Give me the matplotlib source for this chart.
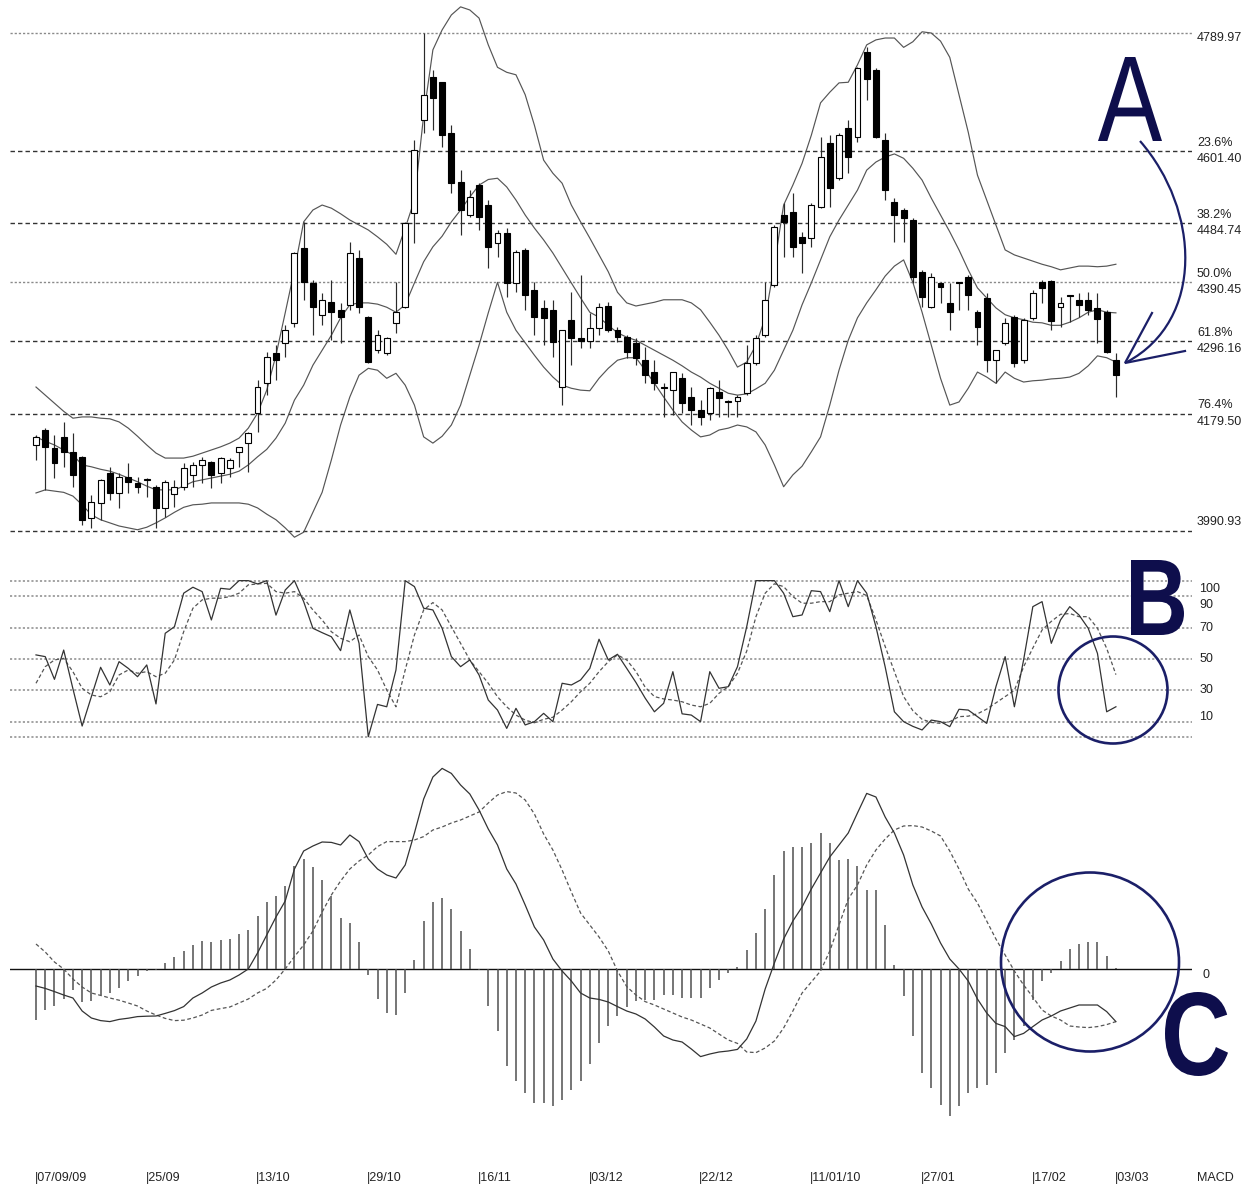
import numpy as np
import matplotlib
matplotlib.use("Agg")
import matplotlib.pyplot as plt
from matplotlib.patches import Ellipse, PathPatch
from matplotlib.path import Path
from matplotlib.textpath import TextPath
from matplotlib.font_manager import FontProperties
from matplotlib.transforms import blended_transform_factory, Affine2D

# ---- price candles (daily OHLC) ----
opens = [4129, 4153, 4124, 4142, 4118, 4110, 4012, 4036, 4084, 4052,
         4078, 4068, 4073, 4062, 4028, 4050, 4062, 4081, 4097, 4102,
         4084, 4092, 4118, 4132, 4180, 4228, 4276, 4293, 4325, 4445,
         4389, 4338, 4359, 4346, 4353, 4429, 4334, 4281, 4277, 4325,
         4350, 4501, 4650, 4719, 4711, 4629, 4551, 4498, 4546, 4514,
         4453, 4469, 4389, 4442, 4378, 4349, 4346, 4222, 4330, 4301,
         4296, 4317, 4352, 4313, 4302, 4292, 4265, 4246, 4222, 4217,
         4236, 4206, 4185, 4180, 4214, 4200, 4200, 4212, 4260, 4305,
         4386, 4498, 4503, 4463, 4461, 4511, 4613, 4557, 4637, 4623,
         4760, 4731, 4618, 4519, 4506, 4490, 4407, 4350, 4389, 4357,
         4390, 4399, 4343, 4365, 4265, 4293, 4334, 4265, 4333, 4390,
         4392, 4351, 4369, 4362, 4362, 4349, 4343, 4265]
highs = [4145, 4156, 4145, 4166, 4148, 4112, 4049, 4075, 4094, 4084,
         4100, 4078, 4076, 4065, 4073, 4073, 4100, 4102, 4110, 4104,
         4110, 4108, 4126, 4150, 4233, 4278, 4290, 4322, 4439, 4487,
         4394, 4373, 4394, 4357, 4455, 4442, 4336, 4313, 4302, 4390,
         4487, 4618, 4790, 4730, 4711, 4642, 4570, 4538, 4549, 4522,
         4474, 4477, 4442, 4445, 4390, 4362, 4362, 4314, 4374, 4402,
         4341, 4357, 4358, 4318, 4305, 4300, 4286, 4265, 4228, 4246,
         4244, 4222, 4201, 4222, 4233, 4201, 4209, 4289, 4305, 4390,
         4482, 4517, 4533, 4471, 4517, 4623, 4626, 4629, 4650, 4736,
         4767, 4734, 4629, 4525, 4509, 4493, 4410, 4405, 4390, 4389,
         4391, 4402, 4346, 4373, 4281, 4333, 4338, 4333, 4378, 4394,
         4394, 4366, 4370, 4373, 4374, 4373, 4346, 4276]
lows = [4105, 4057, 4076, 4094, 4062, 4001, 3996, 4009, 4041, 4028,
        4052, 4052, 4046, 3996, 4014, 4030, 4057, 4062, 4068, 4060,
        4068, 4078, 4094, 4086, 4150, 4209, 4233, 4270, 4318, 4362,
        4306, 4322, 4297, 4293, 4346, 4341, 4260, 4277, 4273, 4309,
        4349, 4453, 4630, 4635, 4607, 4533, 4466, 4495, 4474, 4413,
        4430, 4366, 4374, 4346, 4306, 4290, 4270, 4193, 4257, 4285,
        4285, 4305, 4310, 4294, 4268, 4257, 4228, 4217, 4174, 4177,
        4180, 4161, 4161, 4169, 4174, 4174, 4174, 4209, 4257, 4302,
        4383, 4430, 4430, 4405, 4447, 4509, 4511, 4554, 4565, 4615,
        4683, 4621, 4522, 4455, 4455, 4389, 4350, 4349, 4357, 4313,
        4346, 4346, 4290, 4246, 4228, 4290, 4254, 4260, 4330, 4357,
        4313, 4318, 4326, 4334, 4338, 4293, 4277, 4206]
closes = [4142, 4126, 4100, 4118, 4081, 4009, 4038, 4073, 4052, 4078,
          4070, 4062, 4075, 4028, 4070, 4062, 4092, 4097, 4105, 4081,
          4108, 4105, 4126, 4148, 4222, 4270, 4265, 4314, 4437, 4390,
          4350, 4362, 4343, 4335, 4437, 4350, 4262, 4305, 4300, 4342,
          4485, 4602, 4690, 4686, 4626, 4549, 4506, 4527, 4495, 4447,
          4469, 4389, 4439, 4370, 4334, 4333, 4294, 4313, 4301, 4296,
          4317, 4350, 4313, 4302, 4278, 4268, 4241, 4228, 4220, 4246,
          4196, 4185, 4174, 4220, 4204, 4198, 4206, 4260, 4300, 4362,
          4478, 4487, 4447, 4453, 4514, 4591, 4541, 4626, 4591, 4734,
          4716, 4623, 4538, 4498, 4493, 4399, 4367, 4399, 4383, 4343,
          4389, 4370, 4318, 4265, 4281, 4325, 4260, 4330, 4373, 4381,
          4328, 4357, 4368, 4354, 4346, 4331, 4278, 4241]

# ---- Bollinger bands ----
bb_upper = [4222, 4209, 4196, 4183, 4172, 4174, 4174, 4172, 4171, 4166,
            4156, 4143, 4129, 4116, 4108, 4108, 4108, 4111, 4116, 4121,
            4126, 4132, 4140, 4156, 4180, 4217, 4273, 4341, 4410, 4487,
            4506, 4514, 4509, 4500, 4490, 4482, 4474, 4463, 4451, 4435,
            4477, 4522, 4658, 4763, 4795, 4819, 4832, 4827, 4814, 4771,
            4735, 4727, 4723, 4691, 4642, 4586, 4565, 4549, 4514, 4487,
            4461, 4434, 4407, 4374, 4357, 4352, 4355, 4358, 4362, 4362,
            4362, 4357, 4346, 4326, 4305, 4281, 4254, 4262, 4289, 4333,
            4418, 4514, 4546, 4581, 4626, 4678, 4695, 4710, 4711, 4739,
            4771, 4779, 4782, 4782, 4767, 4776, 4792, 4790, 4777, 4751,
            4691, 4631, 4562, 4522, 4482, 4442, 4434, 4429, 4424, 4419,
            4415, 4410, 4413, 4416, 4416, 4415, 4416, 4419]
bb_mid = [4142, 4135, 4129, 4121, 4113, 4097, 4094, 4090, 4087, 4082,
          4076, 4070, 4063, 4057, 4057, 4057, 4063, 4070, 4073, 4076,
          4079, 4082, 4087, 4097, 4110, 4122, 4140, 4164, 4201, 4225,
          4257, 4281, 4305, 4333, 4354, 4357, 4357, 4355, 4350, 4342,
          4354, 4389, 4423, 4447, 4464, 4487, 4506, 4527, 4546, 4555,
          4557, 4543, 4522, 4498, 4477, 4458, 4437, 4413, 4389, 4365,
          4342, 4334, 4321, 4309, 4302, 4297, 4289, 4281, 4273, 4265,
          4256, 4246, 4238, 4228, 4220, 4212, 4209, 4211, 4219, 4228,
          4249, 4281, 4313, 4354, 4389, 4426, 4463, 4490, 4514, 4538,
          4570, 4583, 4591, 4596, 4589, 4573, 4554, 4525, 4498, 4471,
          4442, 4410, 4381, 4365, 4349, 4338, 4333, 4330, 4326, 4325,
          4321, 4321, 4326, 4333, 4342, 4346, 4342, 4341]
bb_lower = [4052, 4057, 4055, 4053, 4047, 4033, 4017, 4009, 4004, 3999,
            3996, 3993, 3997, 4004, 4012, 4021, 4029, 4033, 4034, 4036,
            4036, 4036, 4036, 4034, 4028, 4018, 4009, 3996, 3981, 3989,
            4021, 4053, 4105, 4161, 4206, 4241, 4252, 4249, 4236, 4244,
            4225, 4193, 4142, 4132, 4143, 4161, 4193, 4241, 4289, 4341,
            4390, 4342, 4313, 4293, 4273, 4254, 4238, 4225, 4220, 4217,
            4216, 4236, 4252, 4265, 4269, 4269, 4249, 4228, 4206, 4185,
            4166, 4153, 4142, 4145, 4153, 4156, 4161, 4158, 4150, 4129,
            4097, 4062, 4081, 4095, 4118, 4142, 4193, 4249, 4297, 4333,
            4357, 4378, 4400, 4416, 4426, 4390, 4342, 4289, 4236, 4193,
            4198, 4220, 4246, 4238, 4228, 4246, 4236, 4230, 4232, 4233,
            4235, 4236, 4238, 4244, 4256, 4272, 4269, 4262]

# ---- Fibonacci retracement levels ----
fib_prices = [4789.97, 4601.40, 4484.74, 4390.45, 4296.16, 4179.50, 3990.93]
fib_pcts = ["", "23.6%", "38.2%", "50.0%", "61.8%", "76.4%", ""]

# ---- Stochastic ----
stoch_k = [52.6, 51.5, 37, 55.7, 31, 7.2, 26, 44.7, 33.4, 48.3,
           44, 38.7, 46.2, 21.3, 66.4, 70.6, 92, 95.8, 93, 74.9,
           95.1, 94.5, 100, 100, 97.9, 100, 78, 94, 100, 86.6,
           69.6, 66.8, 64.2, 55.3, 81.3, 60, 0.4, 21, 19.5, 43,
           100, 96.2, 82.4, 81.3, 69.6, 51.5, 45.1, 49.4, 39.8, 23.8,
           17.4, 5.7, 18.5, 7.9, 10, 15.3, 10, 34.5, 33.4, 36.6,
           44, 62.6, 49.4, 53, 44, 35, 25, 16.3, 21.7, 41.9,
           15, 14.2, 10, 41.9, 31.3, 32.3, 45.1, 70.6, 100, 100,
           100, 92, 77, 78.1, 93.6, 93, 80.2, 100, 83.4, 100,
           92, 70.6, 45, 16.3, 10, 7, 4.7, 11, 10, 6.8,
           17.9, 17.4, 13.2, 8.9, 32.3, 51.5, 19.5, 49.4, 83.4, 86.6,
           60, 74.9, 83.4, 78.1, 69.6, 53.6, 16.3, 19.5]
stoch_d = [34.5, 45.1, 49.4, 50.4, 41.9, 31.3, 27, 25.9, 29.1, 39.8,
           43, 40.9, 41.9, 38.7, 40.9, 49.4, 67.4, 82.4, 87.7, 88.8,
           88.8, 89.8, 92, 97.3, 97.9, 98.3, 93, 92, 93, 88.8,
           81.3, 74.9, 67.4, 63.2, 61, 65.3, 51.5, 43, 30.2, 19.5,
           43, 65.3, 81.3, 86, 81.3, 70.6, 60, 49.4, 41.9, 34.5,
           25.9, 19.5, 14.2, 11, 9.3, 11.5, 12.8, 17.4, 22.7, 29.1,
           34.5, 41.9, 48.3, 52.6, 49.4, 42, 32, 26, 24.5, 23.8,
           22.7, 20.6, 19.5, 21.7, 28.1, 32.3, 40.9, 55, 77, 92,
           98, 96.2, 89.8, 85.6, 85.6, 86.6, 86.6, 90.9, 92, 93,
           90.5, 75, 58, 42, 26, 17, 11.5, 9.5, 8.9, 10,
           13.2, 13.5, 15, 18, 22, 26, 30, 45, 57, 68.5,
           74, 78.5, 79, 77, 77, 69.6, 56.8, 40]
stoch_levels = [100, 90, 70, 50, 30, 10, 0]

# ---- MACD ----
macd = [-8.5, -9.7, -11.3, -13, -14.5, -21, -24.5, -25.8, -26.3, -25.2,
        -24.6, -23.8, -23.6, -23.5, -22.2, -20.8, -18.8, -14.5, -12, -9,
        -7, -5.5, -3, 0, 8, 17, 26, 34, 50, 59,
        61.5, 63.5, 63.3, 62, 67, 63.7, 55, 50, 47, 45.5,
        52, 68, 85, 96, 100.3, 97.8, 92, 87.5, 79.5, 70,
        62, 50, 42.5, 32, 21, 14.5, 5, -1, -6, -12,
        -14.5, -15.2, -16.5, -18.8, -21, -22.5, -25, -29, -33.5, -35.5,
        -36.5, -40, -43.8, -42.5, -41.5, -41, -40.2, -35, -26, -10,
        3, 15, 24, 31, 40, 48, 56, 62, 68, 78,
        87.8, 86, 76, 68, 57, 42, 31, 22.5, 13, 5,
        0, -6, -15, -22, -27.2, -28.8, -33.8, -32.2, -28.8, -25.5,
        -23.5, -21, -19.5, -18, -18, -18, -21.3, -26.3]
signal = [12.5, 8.5, 3.5, 0, -5, -9, -12, -13.2, -14.5, -15.6,
          -17, -18.5, -21, -23, -24.7, -25.8, -25.6, -24.5, -23, -20.7,
          -19.8, -19, -17, -15, -12, -9.7, -5.5, 0, 6.2, 12,
          19, 28.5, 37, 44, 50, 54, 57, 61.2, 63.7, 63.7,
          63.7, 64.5, 66.2, 69.5, 71, 73, 74.5, 76.5, 78.5, 83,
          87, 88.7, 88, 84.5, 77.5, 67.5, 59.5, 49.5, 38.5, 28,
          22, 16, 9, -1, -8.8, -13, -16.3, -18, -20, -22,
          -24, -25.5, -27.5, -29.5, -32.5, -35.5, -37.2, -41.5, -41.8, -39.5,
          -36, -29.5, -21, -12, -6.5, -1, 9, 22, 35, 42,
          52, 59.5, 65, 69.5, 71.5, 71.7, 71, 69, 66.5, 59,
          50, 40, 33, 24, 15, 7, -1, -8, -14, -20.5,
          -23.5, -25.5, -28.5, -29, -29.3, -28.8, -27.8, -26.3]
hist = [-25.3, -20.3, -18.7, -15, -10.3, -16.7, -16.2, -12.8, -12, -9.5,
        -6.2, -3.7, -1.2, -0.7, 3, 5.8, 9.2, 12.2, 13.8, 13.3,
        14.7, 15, 17.5, 19.3, 26.3, 33.5, 36.3, 41.3, 51.3, 55,
        51, 44.7, 36.3, 25.5, 23, 13.3, -2.8, -14.8, -22, -22.8,
        -12, 4.7, 23.8, 33.5, 35.5, 30, 18.8, 10.2, -0.7, -18.3,
        -31.2, -48.3, -56.2, -62, -67, -67, -68.7, -65.7, -60.7, -56.2,
        -47.3, -37, -28.7, -23.7, -19, -16.2, -15.3, -15.3, -12.8, -12.8,
        -14.5, -14.5, -14.5, -9.5, -5.3, -2, 1, 9.7, 18, 30,
        47.2, 58.8, 61, 61, 63, 68, 63, 54.7, 55, 51.7,
        39.7, 39.7, 22.2, 2.2, -13.7, -33.7, -52, -59.5, -67.8, -73.7,
        -68.7, -62, -59.5, -57.8, -52, -42, -35.3, -28.7, -15.3, -6.2,
        -2, 3.8, 10.2, 12.7, 13.3, 13.3, 6.3, 0.5]

# ---- date ticks ----
date_pos = [0, 12, 24, 36, 48, 60, 72, 84, 96, 108, 117]
date_labels = ["07/09/09", "25/09", "13/10", "29/10", "16/11", "03/12",
               "22/12", "11/01/10", "27/01", "17/02", "03/03"]

o = np.array(opens, float)
h = np.array(highs, float)
l = np.array(lows, float)
c = np.array(closes, float)
idx = np.arange(len(c))

W, H = 1254, 1188
fig = plt.figure(figsize=(W / 100, H / 100), dpi=100)
fig.patch.set_facecolor("white")
txt = dict(family="Liberation Sans", color="#222222")


def px_axes(x0, y0, x1, y1):
    return fig.add_axes([x0 / W, 1 - y1 / H, (x1 - x0) / W, (y1 - y0) / H])


ax_p = px_axes(10, 0, 1192, 548)
ax_s = px_axes(10, 562, 1192, 745)
ax_m = px_axes(10, 760, 1192, 1150)
xlo, xhi = (10 - 36) / 9.23, (1192 - 36) / 9.23
for ax in (ax_p, ax_s, ax_m):
    ax.set_xlim(xlo, xhi)
    ax.axis("off")

# price panel
ax_p.set_ylim(3963.7, 4843)
for price, pct in zip(fib_prices, fib_pcts):
    dotted = price in (fib_prices[0], fib_prices[3])
    ax_p.axhline(price, color="#8a8a8a" if dotted else "#333333",
                 lw=1.0, ls=(0, (1.6, 1.4)) if dotted else (0, (3.2, 2.2)), zorder=1)
ax_p.plot(idx, bb_upper, color="#555555", lw=0.85, zorder=2)
ax_p.plot(idx, bb_mid, color="#555555", lw=0.85, zorder=2)
ax_p.plot(idx, bb_lower, color="#555555", lw=0.85, zorder=2)

up = c >= o
body_lo = np.minimum(o, c)
body_h = np.maximum(np.abs(c - o), 1.6)
ax_p.vlines(idx, l, h, color="#2a2a2a", lw=0.85, zorder=3)
ax_p.bar(idx, body_h, bottom=body_lo, width=0.64,
         color=np.where(up, "white", "black"), edgecolor="black", lw=0.8, zorder=4)

tr_p = blended_transform_factory(ax_p.transAxes, ax_p.transData)
xl = (1197 - 10) / 1182
for price, pct in zip(fib_prices, fib_pcts):
    vtxt = f"{price:.2f}"
    if pct:
        ax_p.annotate(pct, (xl, price), xycoords=tr_p, xytext=(0, 5.8),
                      textcoords="offset points", va="center", ha="left",
                      fontsize=9, annotation_clip=False, **txt)
        ax_p.annotate(vtxt, (xl, price), xycoords=tr_p, xytext=(0, -5.8),
                      textcoords="offset points", va="center", ha="left",
                      fontsize=9, annotation_clip=False, **txt)
    else:
        dy = -3.6 if price == fib_prices[0] else 6.5
        ax_p.annotate(vtxt, (xl, price), xycoords=tr_p, xytext=(0, dy),
                      textcoords="offset points", va="center", ha="left",
                      fontsize=9, annotation_clip=False, **txt)

# stochastic panel
ax_s.set_ylim(-4.9, 111.9)
for lv in stoch_levels:
    ax_s.axhline(lv, color="#8a8a8a", lw=1.1, ls=(0, (1.4, 1.4)), zorder=1)
ax_s.plot(idx, stoch_d, color="#555555", lw=0.9, ls=(0, (3, 2)), zorder=2)
ax_s.plot(idx, stoch_k, color="#333333", lw=0.9, zorder=3)
tr_s = blended_transform_factory(ax_s.transAxes, ax_s.transData)
lab_dy = {100: -6.0, 90: -6.0, 70: 0, 50: 0, 30: 0, 10: 3.5}
for lv in stoch_levels[:-1]:
    ax_s.annotate(str(lv), (xl + 0.002, lv), xycoords=tr_s, xytext=(0, lab_dy[lv]),
                  textcoords="offset points", va="center", ha="left",
                  fontsize=9, annotation_clip=False, **txt)

# MACD panel
ax_m.set_ylim(-90.5, 104.5)
ax_m.axhline(0, color="#111111", lw=1.0, zorder=1)
ax_m.vlines(idx, 0, hist, color="#505050", lw=1.1, zorder=2)
ax_m.plot(idx, signal, color="#555555", lw=0.9, ls=(0, (3, 2)), zorder=3)
ax_m.plot(idx, macd, color="#333333", lw=0.9, zorder=4)
tr_m = blended_transform_factory(ax_m.transAxes, ax_m.transData)
ax_m.annotate("0", (xl + 0.005, 0), xycoords=tr_m, xytext=(0, -4.5),
              textcoords="offset points", va="center", ha="left",
              fontsize=9, annotation_clip=False, **txt)
tr_d = blended_transform_factory(ax_m.transData, ax_m.transAxes)
for pos, lab in zip(date_pos, date_labels):
    ax_m.text(pos - 0.15, -0.072, "|" + lab, transform=tr_d, ha="left",
              va="center", fontsize=9, clip_on=False, **txt)
ax_m.text(xl, -0.072, "MACD", transform=ax_m.transAxes, ha="left",
          va="center", fontsize=9, clip_on=False, **txt)

# annotation overlay in pixel coordinates
ax_o = fig.add_axes([0, 0, 1, 1])
ax_o.set_xlim(0, W)
ax_o.set_ylim(H, 0)
ax_o.axis("off")
ax_o.patch.set_alpha(0)
navy_txt = "#0e0e4c"
navy = "#1b1f68"


def glyph(ch, box, bold):
    fp = FontProperties(family="Liberation Sans", weight="bold" if bold else "normal")
    tp = TextPath((0, 0), ch, size=100, prop=fp)
    ext = tp.get_extents()
    bx0, by0, bx1, by1 = box
    t = (Affine2D().translate(-ext.x0, -ext.y0)
         .scale((bx1 - bx0) / ext.width, -(by1 - by0) / ext.height)
         .translate(bx0, by1))
    ax_o.add_patch(PathPatch(t.transform_path(tp), facecolor=navy_txt, lw=0))


glyph("A", (1098, 57, 1162, 141), False)
glyph("B", (1131, 560, 1184, 635), True)
glyph("C", (1165, 992, 1228, 1076), True)

arc = Path([(1140, 141), (1200, 210), (1205, 320), (1127, 362)],
           [Path.MOVETO, Path.CURVE4, Path.CURVE4, Path.CURVE4])
ax_o.add_patch(PathPatch(arc, fill=False, edgecolor=navy, lw=1.6))
ax_o.plot([1152, 1125, 1185], [313, 363, 351], color=navy, lw=1.6,
          solid_joinstyle="miter")
ax_o.add_patch(Ellipse((1113, 690), 109, 107, fill=False, edgecolor=navy, lw=1.9))
ax_o.add_patch(Ellipse((1090, 962), 178, 179, fill=False, edgecolor=navy, lw=1.9))

fig.savefig("out.png", dpi=100, facecolor="white")
